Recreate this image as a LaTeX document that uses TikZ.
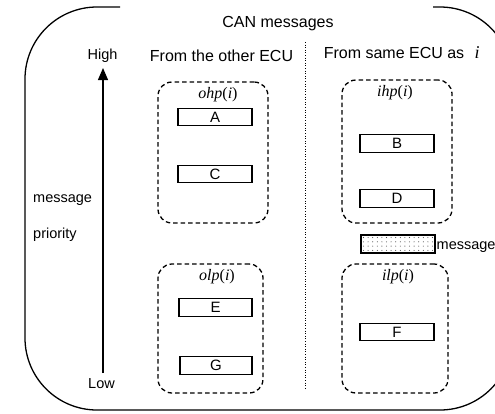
\documentclass[tikz,border=0pt]{standalone}
\usepackage{fontspec}
\setmainfont{Liberation Sans}
\newfontfamily\tms{Liberation Serif}
\newcommand{\mfun}[1]{{\tms\itshape #1}{\tms(}{\tms\itshape i\/}{\tms)}}
\usetikzlibrary{arrows.meta}
\begin{document}
\begin{tikzpicture}[x=1pt,y=-1pt,
  grp/.style={draw, dash pattern=on 4.5pt off 3pt, line width=1.3pt, rounded corners=14pt, inner sep=0pt},
  msgbox/.style={draw, line width=1.1pt, minimum width=74pt, minimum height=17.5pt, inner sep=0pt, font=\fontsize{15}{15}\selectfont},
  lbl/.style={font=\fontsize{14.5}{15}\selectfont, inner sep=0pt},
  hdr/.style={font=\fontsize{16}{16}\selectfont, inner sep=0pt},
  mlbl/.style={font=\fontsize{16}{16}\selectfont, inner sep=0pt}
]
\useasboundingbox (0,0) rectangle (495,413);
\clip (0,0) rectangle (495,413);
% outer frame with gap for the title
\draw[line width=1.3pt, rounded corners=72pt] (120,7) -- (25,7) -- (25,410) -- (512,410) -- (512,7) -- (433,7);
\node[hdr, anchor=base] (title) at (278,27) {CAN messages};
% headers
\node[hdr, anchor=base] (hleft) at (221.5,61) {From the other ECU};
\node[hdr, anchor=base] (hright) at (394,58) {From same ECU as};
\node[inner sep=0pt, font=\fontsize{18}{18}\selectfont, anchor=base] (hi) at (477,58) {{\tms\itshape i}};
% divider
\coordinate (dtop) at (305,42);
\coordinate (dbot) at (305,390);
\draw[line width=1pt, dash pattern=on 1pt off 1.6pt] (dtop) -- (dbot);
% priority axis
\node[lbl, anchor=base] (high) at (102.5,59) {High};
\node[lbl, anchor=base] (low) at (101.5,388) {Low};
\node[lbl, anchor=base west] (pm) at (33,202) {message};
\node[lbl, anchor=base west] (pp) at (33,238) {priority};
\coordinate (alo) at (103,373);
\coordinate (ahi) at (103,68);
\draw[line width=1.1pt, -{Triangle[length=12pt,width=10pt]}] (alo) -- (ahi);
% groups
\node[grp, minimum width=110pt, minimum height=141pt] (ohp) at (213,152.5) {};
\node[grp, minimum width=105pt, minimum height=129pt] (olp) at (210.5,328.5) {};
\node[grp, minimum width=110pt, minimum height=143pt] (ihp) at (397,151.5) {};
\node[grp, minimum width=106pt, minimum height=129pt] (ilp) at (395,328.5) {};
\node[mlbl] (lohp) at (218,95) {\mfun{ohp}};
\node[mlbl] (lihp) at (395,93) {\mfun{ihp}};
\node[mlbl] (lolp) at (217,277) {\mfun{olp}};
\node[mlbl] (lilp) at (398,277) {\mfun{ilp}};
% messages
\node[msgbox] (A) at (215,117) {A};
\node[msgbox] (C) at (215,174) {C};
\node[msgbox, minimum width=73pt] (E) at (215.5,307.5) {E};
\node[msgbox, minimum width=72pt] (G) at (216,365.5) {G};
\node[msgbox] (B) at (397,143.5) {B};
\node[msgbox] (D) at (397,198.5) {D};
\node[msgbox] (F) at (397,332) {F};
% legend
\node[msgbox, minimum height=18pt] (leg) at (398,244) {};
\foreach \k in {0,...,15}{
  \foreach \j in {0,...,3}{
    \fill[black!70] (363.5+4.6*\k, 237.5+4.3*\j) circle (0.55pt);
  }
}
\node[lbl, anchor=base west] (legt) at (436.5,249) {message};
\end{tikzpicture}
\end{document}
